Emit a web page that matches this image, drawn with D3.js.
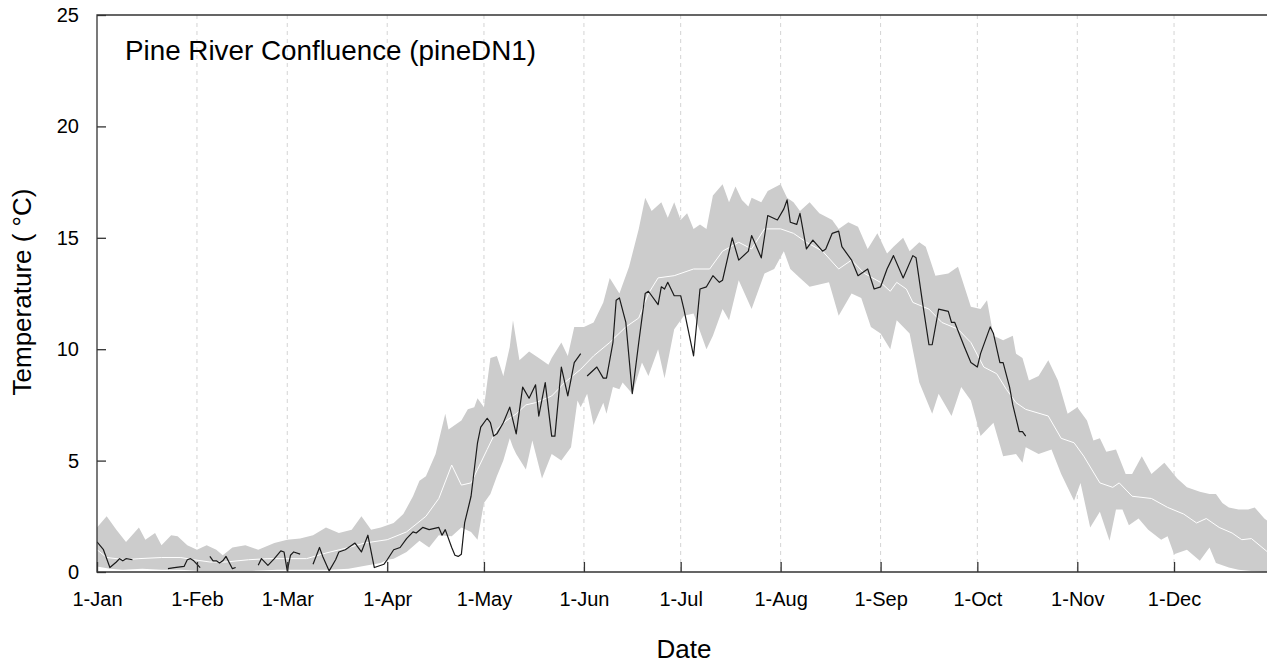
<!DOCTYPE html>
<html>
<head>
<meta charset="utf-8">
<script src="https://cdn.jsdelivr.net/npm/d3@7"></script>
<style>
  html, body { margin: 0; padding: 0; background: #fff; }
  svg { display: block; font-family: "Liberation Sans", Arial, sans-serif; }
</style>
</head>
<body>
<svg id="chart" width="1267" height="664"></svg>
<script>
// Month starts (day of year) and their labels
const monthDays = [0, 31, 59, 90, 120, 151, 181, 212, 243, 273, 304, 334];
const monthLabels = ["1-Jan", "1-Feb", "1-Mar", "1-Apr", "1-May", "1-Jun",
                     "1-Jul", "1-Aug", "1-Sep", "1-Oct", "1-Nov", "1-Dec"];
const tempTicks = [0, 5, 10, 15, 20, 25];

// Historical daily range: upper envelope [day, °C]
const bandUpper = [[0,2.0],[3,2.5],[6,1.9],[9,1.35],[13,2.0],[15,1.45],[18,1.75],[20,1.2],[23,1.65],[25,1.6],[28,1.2],[31,1.0],[34,1.2],[37,1.0],[39,0.75],[42,1.1],[46,1.2],[50,1.0],[55,1.3],[59,1.45],[63,1.5],[67,1.65],[71,2.0],[75,1.75],[79,1.9],[82,2.5],[85,1.9],[88,2.0],[92,2.2],[95,2.6],[98,3.4],[100,4.1],[102,4.3],[105,5.3],[108,7.1],[109,6.4],[113,6.8],[115,7.3],[117,7.4],[118,7.8],[120,7.4],[122,9.6],[124,9.7],[126,8.8],[128,10.1],[129,11.3],[131,9.5],[134,9.9],[137,9.6],[140,9.3],[141,9.6],[144,10.3],[146,9.7],[148,11.0],[151,11.0],[154,11.2],[157,12.1],[159,13.2],[162,12.5],[165,13.7],[168,15.4],[170,16.8],[172,16.2],[175,16.6],[177,15.9],[179,16.6],[181,15.8],[183,16.1],[185,15.4],[187,15.6],[189,15.4],[191,16.9],[194,17.4],[196,16.6],[198,17.3],[200,16.7],[202,16.4],[203,16.8],[206,16.6],[208,17.1],[212,17.4],[214,16.8],[216,16.6],[218,16.2],[221,16.6],[224,16.1],[228,15.8],[230,15.4],[233,15.7],[236,15.5],[239,14.5],[242,15.2],[245,14.3],[247,14.6],[250,15.0],[252,14.4],[255,14.8],[257,14.6],[260,13.3],[264,13.4],[267,13.7],[271,11.9],[274,11.8],[276,12.2],[278,10.6],[281,10.4],[284,10.6],[285,9.8],[287,9.6],[289,8.6],[292,8.8],[295,9.5],[298,8.6],[301,7.1],[304,7.4],[307,6.8],[309,5.9],[311,6.0],[313,5.4],[316,5.5],[319,4.4],[321,4.4],[324,5.2],[327,4.4],[331,4.9],[335,4.2],[338,3.8],[342,3.6],[345,3.5],[347,3.5],[349,3.1],[351,2.9],[354,2.8],[357,2.8],[359,2.9],[362,2.4],[365,2.1]];

// Historical daily range: lower envelope [day, °C]
const bandLower = [[0,0.25],[4,0.15],[8,0.1],[14,0.15],[20,0.1],[26,0.1],[32,0.05],[40,0.05],[48,0.05],[56,0.1],[64,0.1],[72,0.1],[78,0.15],[84,0.3],[88,0.4],[90,0.55],[92,0.6],[96,0.9],[100,1.4],[103,1.1],[106,1.65],[110,1.6],[113,2.0],[116,1.8],[118,1.45],[120,3.1],[122,3.5],[124,4.3],[126,5.0],[128,6.0],[129,5.6],[130,5.3],[133,4.6],[135,5.9],[138,4.2],[141,5.3],[144,5.0],[147,5.6],[149,7.7],[150,7.4],[152,8.0],[154,6.6],[157,7.6],[158,7.1],[160,8.3],[162,8.2],[163,8.5],[166,8.0],[169,9.4],[171,8.8],[174,10.0],[176,8.7],[179,10.9],[182,11.5],[185,11.6],[189,10.0],[191,10.6],[194,11.8],[196,11.3],[199,13.1],[203,11.8],[207,13.4],[210,13.6],[213,14.4],[215,13.6],[218,13.2],[221,12.8],[224,12.9],[227,13.0],[230,11.5],[234,12.5],[237,12.3],[240,11.0],[243,10.7],[246,10.0],[248,11.3],[252,10.7],[255,8.5],[259,7.1],[261,8.0],[265,7.0],[268,8.3],[271,7.7],[274,6.1],[278,6.7],[281,5.2],[285,5.3],[287,4.9],[288,5.6],[292,5.3],[296,5.5],[299,4.4],[303,3.2],[305,4.0],[308,2.0],[311,2.7],[314,1.4],[316,2.8],[318,2.8],[320,2.1],[323,2.4],[326,1.9],[330,1.45],[332,1.6],[334,0.8],[338,1.0],[342,0.5],[345,1.1],[347,0.4],[351,0.2],[354,0.1],[358,0.05],[365,0.0]];

// Historical daily mean [day, °C]
const dailyMean = [[0,1.0],[3,0.65],[9,0.55],[13,0.6],[20,0.65],[26,0.65],[30,0.55],[35,0.45],[40,0.45],[47,0.55],[53,0.6],[59,0.6],[65,0.6],[71,0.85],[78,1.1],[83,1.3],[90,1.45],[96,1.8],[102,2.5],[106,3.3],[110,4.8],[113,3.9],[116,4.0],[118,4.6],[121,5.5],[124,6.4],[127,6.8],[130,7.1],[133,7.5],[136,7.6],[141,7.9],[145,8.5],[150,9.1],[154,9.7],[159,10.3],[164,11.0],[168,11.4],[171,12.5],[174,13.2],[179,13.3],[185,13.6],[190,13.6],[194,14.4],[199,14.8],[203,14.5],[207,15.4],[212,15.4],[216,15.2],[220,14.8],[225,14.4],[230,13.6],[234,14.0],[238,13.4],[243,13.0],[246,12.6],[248,13.0],[251,12.7],[253,12.1],[258,11.8],[262,11.2],[267,10.9],[271,10.3],[275,9.2],[279,8.9],[282,8.2],[285,7.6],[288,7.3],[295,7.0],[299,6.0],[303,5.8],[306,5.2],[311,4.0],[315,3.8],[317,4.0],[321,3.4],[327,3.3],[332,2.9],[337,2.6],[341,2.2],[344,2.4],[348,2.0],[352,1.75],[355,1.45],[358,1.5],[363,0.9],[365,0.7]];

// Current-year record [day, °C]; null marks a gap in the logger record
const observed = [[0,1.35],[2,1.0],[4,0.2],[6,0.45],[7,0.6],[8,0.5],[9,0.6],[11,0.55],[12,null],
  [22,0.15],[24,0.2],[27,0.25],[28,0.55],[29,0.6],[30,0.5],[32,0.2],[33,null],
  [35,0.7],[36,0.5],[37,0.5],[38,0.4],[39,0.5],[40,0.7],[42,0.15],[43,0.2],[44,null],
  [50,0.3],[51,0.6],[53,0.3],[55,0.6],[57,0.95],[58,0.9],[59,0.05],[60,0.75],[61,0.9],[63,0.8],[64,null],
  [67,0.35],[69,1.1],[70,0.7],[72,0.05],[74,0.55],[75,0.9],[77,1.0],[80,1.3],[82,0.9],[84,1.65],[86,0.2],[89,0.35],[90,0.55],[92,1.0],[94,1.1],[96,1.5],[98,1.8],[99,1.75],[101,2.0],[103,1.9],[106,2.0],[107,1.65],[108,1.9],[110,1.1],[111,0.75],[112,0.7],[113,0.8],[114,2.2],[116,3.4],[117,4.6],[118,5.8],[119,6.5],[121,6.9],[122,6.7],[123,6.1],[124,6.2],[126,6.7],[128,7.4],[130,6.2],[132,8.3],[134,7.8],[136,8.4],[137,7.0],[139,8.5],[141,6.1],[142,6.1],[144,9.2],[146,7.9],[148,9.4],[150,9.8],[151,null],
  [152,8.8],[155,9.2],[157,8.7],[158,8.7],[160,10.3],[161,12.2],[162,12.3],[164,11.2],[166,8.0],[168,10.3],[170,12.5],[171,12.6],[174,12.0],[175,12.8],[176,12.7],[177,13.0],[179,12.4],[181,12.4],[182,11.8],[185,9.7],[187,12.7],[189,12.8],[191,13.3],[193,13.0],[194,13.1],[197,15.0],[199,14.0],[202,14.4],[203,15.1],[206,14.1],[208,16.0],[211,15.8],[213,16.3],[214,16.7],[215,15.7],[217,15.6],[218,16.1],[220,14.5],[222,14.9],[225,14.4],[226,14.5],[228,15.2],[230,15.3],[231,14.6],[234,14.0],[236,13.3],[239,13.6],[241,12.7],[243,12.8],[245,13.6],[247,14.2],[250,13.2],[253,14.2],[254,14.1],[256,12.1],[258,10.2],[259,10.2],[261,11.8],[264,11.7],[265,11.2],[266,11.2],[269,10.1],[271,9.4],[273,9.2],[274,9.8],[277,11.0],[278,10.7],[280,9.4],[281,9.4],[283,8.3],[284,7.5],[286,6.3],[287,6.3],[288,6.1]];

const titleText = "Pine River Confluence (pineDN1)";

// ---- layout ----
const svg = d3.select("#chart");
const plot = { left: 97, top: 15, bottom: 572, right: 1274 };

const x = d3.scaleLinear().domain([0, 365]).range([plot.left, plot.right]);
const y = d3.scaleLinear().domain([0, 25]).range([plot.bottom, plot.top]);

svg.append("defs").append("clipPath").attr("id", "plotClip")
  .append("rect")
  .attr("x", plot.left).attr("y", plot.top)
  .attr("width", plot.right - plot.left).attr("height", plot.bottom - plot.top);

// vertical dashed month gridlines
svg.append("g")
  .selectAll("line")
  .data(monthDays.slice(1))
  .join("line")
  .attr("x1", d => x(d)).attr("x2", d => x(d))
  .attr("y1", plot.top).attr("y2", plot.bottom)
  .attr("stroke", "#d4d4d4")
  .attr("stroke-width", 1)
  .attr("stroke-dasharray", "4,4");

const layer = svg.append("g").attr("clip-path", "url(#plotClip)");

// range band: upper envelope forward, lower envelope back
const bandLine = d3.line().x(d => x(d[0])).y(d => y(d[1]));
layer.append("path")
  .attr("d", bandLine(bandUpper.concat(bandLower.slice().reverse())) + "Z")
  .attr("fill", "#cccccc")
  .attr("stroke", "none");

// daily mean
layer.append("path")
  .attr("d", bandLine(dailyMean))
  .attr("fill", "none")
  .attr("stroke", "#ffffff")
  .attr("stroke-width", 1);

// observed record
const obsLine = d3.line()
  .defined(d => d[1] !== null)
  .x(d => x(d[0])).y(d => y(d[1]));
layer.append("path")
  .attr("d", obsLine(observed))
  .attr("fill", "none")
  .attr("stroke", "#1a1a1a")
  .attr("stroke-width", 1.2)
  .attr("stroke-linejoin", "round");

// axes
const xAxis = d3.axisBottom(x)
  .tickValues(monthDays)
  .tickFormat((d, i) => monthLabels[i])
  .tickSizeInner(-10).tickSizeOuter(0).tickPadding(20);
const gx = svg.append("g").attr("transform", `translate(0,${plot.bottom})`).call(xAxis);
gx.select(".domain").remove();
gx.selectAll(".tick line").attr("stroke", "#333").attr("stroke-width", 1.3);
gx.selectAll(".tick text").attr("font-size", 20).attr("fill", "#000")
  .attr("font-family", "'Liberation Sans', Arial, sans-serif");

const yAxis = d3.axisLeft(y)
  .tickValues(tempTicks)
  .tickSizeInner(-9).tickSizeOuter(0).tickPadding(18);
const gy = svg.append("g").attr("transform", `translate(${plot.left},0)`).call(yAxis);
gy.select(".domain").remove();
gy.selectAll(".tick line").attr("stroke", "#333").attr("stroke-width", 1.3);
gy.selectAll(".tick text").attr("font-size", 20).attr("fill", "#000")
  .attr("font-family", "'Liberation Sans', Arial, sans-serif");

// plot frame (right edge lies beyond the canvas)
svg.append("path")
  .attr("d", `M${plot.right},${plot.top}H${plot.left}V${plot.bottom}H${plot.right}`)
  .attr("fill", "none")
  .attr("stroke", "#333")
  .attr("stroke-width", 1.3);

// title and axis titles
svg.append("text")
  .attr("x", 125).attr("y", 60)
  .attr("font-size", 27.8)
  .attr("fill", "#000")
  .text(titleText);

svg.append("text")
  .attr("x", 684).attr("y", 658)
  .attr("text-anchor", "middle")
  .attr("font-size", 26)
  .attr("fill", "#000")
  .text("Date");

svg.append("text")
  .attr("transform", "translate(31,292) rotate(-90)")
  .attr("text-anchor", "middle")
  .attr("font-size", 26)
  .attr("fill", "#000")
  .text("Temperature ( °C)");
</script>
</body>
</html>
